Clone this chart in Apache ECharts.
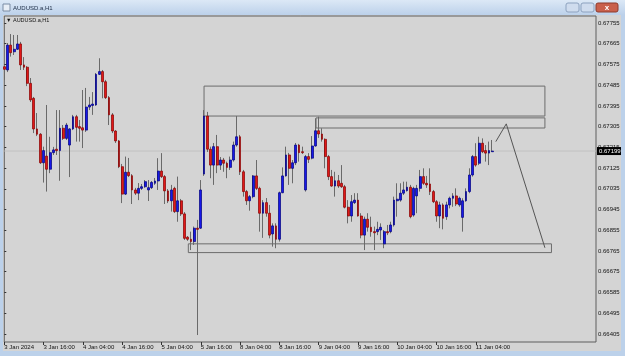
<!DOCTYPE html>
<html>
<head>
<meta charset="utf-8">
<script src="https://cdn.jsdelivr.net/npm/echarts@6/dist/echarts.min.js"></script>
<style>
html, body { margin: 0; padding: 0; background: #d4d4d4; }
#chart { width: 625px; height: 356px; }
</style>
</head>
<body>
<div id="chart"></div>
<script>
// tick labels (one every 12 H1 bars)
var timeLabels = ['3 Jan 2024', '3 Jan 16:00', '4 Jan 04:00', '4 Jan 16:00', '5 Jan 04:00', '5 Jan 16:00',
    '8 Jan 04:00', '8 Jan 16:00', '9 Jan 04:00', '9 Jan 16:00', '10 Jan 04:00', '10 Jan 16:00', '11 Jan 04:00'];
var priceTicks = [0.66405, 0.66495, 0.66585, 0.66675, 0.66765, 0.66855, 0.66945, 0.67035,
    0.67125, 0.67215, 0.67305, 0.67395, 0.67485, 0.67575, 0.67665, 0.67755];

// H1 candles: open, close, low, high
var candles = [
    [0.67565, 0.67554, 0.67508, 0.67568], [0.67551, 0.67659, 0.67542, 0.67668], [0.67659, 0.67626, 0.67609, 0.67707],
    [0.67630, 0.67641, 0.67616, 0.67703], [0.67641, 0.67664, 0.67638, 0.67703], [0.67664, 0.67573, 0.67551, 0.67673],
    [0.67573, 0.67563, 0.67551, 0.67607], [0.67563, 0.67493, 0.67481, 0.67568], [0.67493, 0.67421, 0.67412, 0.67516],
    [0.67428, 0.67295, 0.67277, 0.67434], [0.67295, 0.67272, 0.67264, 0.67364], [0.67272, 0.67148, 0.67143, 0.67277],
    [0.67148, 0.67201, 0.67062, 0.67218], [0.67177, 0.67120, 0.67023, 0.67399], [0.67120, 0.67192, 0.67103, 0.67261],
    [0.67192, 0.67204, 0.67182, 0.67217], [0.67207, 0.67201, 0.67182, 0.67377], [0.67201, 0.67298, 0.67070, 0.67377],
    [0.67298, 0.67254, 0.67247, 0.67312], [0.67254, 0.67312, 0.67247, 0.67321], [0.67225, 0.67295, 0.67086, 0.67298],
    [0.67295, 0.67348, 0.67290, 0.67356], [0.67348, 0.67302, 0.67240, 0.67356], [0.67305, 0.67298, 0.67240, 0.67334],
    [0.67300, 0.67290, 0.67212, 0.67464], [0.67290, 0.67390, 0.67282, 0.67473], [0.67390, 0.67399, 0.67377, 0.67434],
    [0.67397, 0.67403, 0.67356, 0.67455], [0.67399, 0.67532, 0.67395, 0.67538], [0.67532, 0.67544, 0.67529, 0.67602],
    [0.67544, 0.67500, 0.67428, 0.67551], [0.67500, 0.67431, 0.67425, 0.67508], [0.67431, 0.67356, 0.67312, 0.67438],
    [0.67356, 0.67286, 0.67277, 0.67364], [0.67286, 0.67243, 0.67234, 0.67290], [0.67243, 0.67131, 0.67125, 0.67247],
    [0.67131, 0.67012, 0.66973, 0.67143], [0.67012, 0.67107, 0.67008, 0.67175], [0.67107, 0.67092, 0.67086, 0.67169],
    [0.67092, 0.67030, 0.66969, 0.67099], [0.67030, 0.67016, 0.67008, 0.67039], [0.67016, 0.67037, 0.66986, 0.67060],
    [0.67037, 0.67044, 0.67030, 0.67056], [0.67044, 0.67066, 0.67039, 0.67073], [0.67030, 0.67040, 0.66982, 0.67073],
    [0.67040, 0.67063, 0.67034, 0.67069], [0.67059, 0.67069, 0.67052, 0.67082], [0.67069, 0.67112, 0.67030, 0.67168],
    [0.67112, 0.67088, 0.67082, 0.67190], [0.67088, 0.67026, 0.66969, 0.67095], [0.67026, 0.66982, 0.66973, 0.67034],
    [0.66983, 0.67030, 0.66936, 0.67052], [0.67037, 0.66936, 0.66930, 0.67044], [0.66936, 0.66983, 0.66892, 0.67088],
    [0.66983, 0.66926, 0.66917, 0.66991], [0.66926, 0.66820, 0.66813, 0.66934], [0.66825, 0.66816, 0.66809, 0.66830],
    [0.66816, 0.66806, 0.66769, 0.66849], [0.66806, 0.66864, 0.66791, 0.66871], [0.66864, 0.66859, 0.66400, 0.66900],
    [0.66864, 0.67030, 0.66861, 0.67073], [0.67099, 0.67351, 0.67091, 0.67377], [0.67351, 0.67207, 0.67195, 0.67369],
    [0.67207, 0.67138, 0.67081, 0.67218], [0.67138, 0.67218, 0.67052, 0.67234], [0.67218, 0.67138, 0.67103, 0.67269],
    [0.67138, 0.67160, 0.67117, 0.67173], [0.67160, 0.67146, 0.67109, 0.67169], [0.67146, 0.67128, 0.67081, 0.67153],
    [0.67128, 0.67160, 0.67117, 0.67175], [0.67160, 0.67225, 0.67153, 0.67240], [0.67225, 0.67261, 0.67218, 0.67351],
    [0.67261, 0.67109, 0.67095, 0.67269], [0.67109, 0.67023, 0.67001, 0.67117], [0.67023, 0.66983, 0.66965, 0.67030],
    [0.66983, 0.67001, 0.66940, 0.67008], [0.67001, 0.67091, 0.66994, 0.67095], [0.67091, 0.67037, 0.67030, 0.67160],
    [0.67037, 0.66929, 0.66849, 0.67044], [0.66929, 0.66975, 0.66822, 0.66986], [0.66975, 0.66929, 0.66914, 0.66995],
    [0.66929, 0.66834, 0.66820, 0.66965], [0.66839, 0.66874, 0.66784, 0.66885], [0.66874, 0.66816, 0.66777, 0.66885],
    [0.66816, 0.67018, 0.66806, 0.67023], [0.67018, 0.67091, 0.67016, 0.67128], [0.67091, 0.67182, 0.67088, 0.67218],
    [0.67182, 0.67124, 0.67052, 0.67191], [0.67124, 0.67148, 0.67059, 0.67160], [0.67148, 0.67225, 0.67138, 0.67234],
    [0.67225, 0.67192, 0.67153, 0.67230], [0.67196, 0.67192, 0.67186, 0.67218], [0.67030, 0.67175, 0.67023, 0.67182],
    [0.67175, 0.67163, 0.67147, 0.67190], [0.67168, 0.67221, 0.67163, 0.67264], [0.67221, 0.67287, 0.67218, 0.67341],
    [0.67287, 0.67273, 0.67256, 0.67348], [0.67273, 0.67250, 0.67240, 0.67298], [0.67250, 0.67175, 0.67124, 0.67254],
    [0.67175, 0.67088, 0.67073, 0.67182], [0.67088, 0.67047, 0.67044, 0.67117], [0.67047, 0.67070, 0.67001, 0.67109],
    [0.67070, 0.67047, 0.67039, 0.67095], [0.67059, 0.67044, 0.67039, 0.67138], [0.67044, 0.66955, 0.66950, 0.67052],
    [0.66955, 0.66917, 0.66885, 0.66986], [0.66917, 0.66979, 0.66892, 0.67008], [0.66975, 0.66986, 0.66969, 0.67016],
    [0.66986, 0.66917, 0.66914, 0.67016], [0.66917, 0.66834, 0.66820, 0.66929], [0.66834, 0.66903, 0.66769, 0.66914],
    [0.66903, 0.66868, 0.66849, 0.66929], [0.66868, 0.66849, 0.66827, 0.66914], [0.66849, 0.66844, 0.66769, 0.66871],
    [0.66849, 0.66859, 0.66834, 0.66892], [0.66856, 0.66868, 0.66813, 0.66885], [0.66796, 0.66849, 0.66777, 0.66856],
    [0.66849, 0.66844, 0.66834, 0.66878], [0.66849, 0.66878, 0.66842, 0.66892], [0.66878, 0.66986, 0.66871, 0.67001],
    [0.66983, 0.66990, 0.66914, 0.67059], [0.66986, 0.67016, 0.66979, 0.67059], [0.67016, 0.67030, 0.67008, 0.67066],
    [0.67027, 0.67042, 0.67023, 0.67066], [0.67042, 0.66914, 0.66907, 0.67052], [0.66921, 0.67037, 0.66914, 0.67044],
    [0.67004, 0.67037, 0.66929, 0.67052], [0.67037, 0.67088, 0.67023, 0.67117], [0.67088, 0.67059, 0.67052, 0.67124],
    [0.67059, 0.67052, 0.67039, 0.67091], [0.67056, 0.67023, 0.67008, 0.67124], [0.67023, 0.66979, 0.66973, 0.67030],
    [0.66979, 0.66917, 0.66892, 0.66986], [0.66917, 0.66965, 0.66864, 0.66979], [0.66965, 0.66907, 0.66859, 0.66972],
    [0.66914, 0.66965, 0.66900, 0.66979], [0.66965, 0.66994, 0.66950, 0.67001], [0.66994, 0.67004, 0.66957, 0.67016],
    [0.67004, 0.66969, 0.66960, 0.67037], [0.66965, 0.66994, 0.66957, 0.67001], [0.66911, 0.66983, 0.66849, 0.66994],
    [0.66983, 0.67023, 0.66979, 0.67037], [0.67023, 0.67095, 0.67016, 0.67124], [0.67095, 0.67175, 0.67088, 0.67182],
    [0.67175, 0.67138, 0.67131, 0.67233], [0.67146, 0.67233, 0.67138, 0.67261], [0.67233, 0.67196, 0.67190, 0.67254],
    [0.67201, 0.67190, 0.67153, 0.67225], [0.67190, 0.67201, 0.67138, 0.67240], [0.67196, 0.67199, 0.67196, 0.67247]
];

// drawn objects, in bar index / price
var zones = [
    [61, 0.67481, 165.1, 0.67351],
    [95.2, 0.67343, 165.1, 0.67299],
    [56.2, 0.66796, 167.1, 0.66758]
];
var pathPoints = [[150.1, 0.67240], [153.3, 0.67317], [165.1, 0.66779]];
var lastPrice = 0.67199;

var font = 'Liberation Sans, Arial, sans-serif';
var xMax = 180.7;
var myChart = echarts.init(document.getElementById('chart'));

var wickData = candles.map(function (c, i) { return [i, c[0], c[1], c[2], c[3]]; });
var bodyData = candles.map(function (c, i) {
    return [i, c[0], c[1], Math.min(c[0], c[1]), Math.max(c[0], c[1])];
});

var option = {
    backgroundColor: '#d4d4d4',
    animation: false,
    grid: {
        left: 4.3, right: 29, top: 16, bottom: 14,
        show: true, backgroundColor: '#d4d4d4', borderColor: '#5e5e5e', borderWidth: 1
    },
    xAxis: {
        type: 'value', min: 0, max: xMax, interval: 12,
        splitLine: { show: false },
        axisLine: { show: false },
        axisTick: { show: true, length: 3, lineStyle: { color: '#333' },
            customValues: timeLabels.map(function (t, k) { return k * 12; }) },
        axisLabel: {
            customValues: timeLabels.map(function (t, k) { return k * 12; }),
            formatter: function (v) { return timeLabels[Math.round(v / 12)] || ''; },
            align: 'left', fontSize: 6, color: '#111', margin: 2, fontFamily: font
        }
    },
    yAxis: {
        type: 'value', position: 'right', min: 0.663698, max: 0.677854,
        splitLine: { show: false },
        axisLine: { show: false },
        axisTick: { show: true, length: 2, customValues: priceTicks, lineStyle: { color: '#333' } },
        axisLabel: {
            customValues: priceTicks,
            formatter: function (v) { return v.toFixed(5); },
            fontSize: 6, color: '#111', margin: 2, fontFamily: font
        }
    },
    graphic: [
        { type: 'rect', shape: { x: 0, y: 0, width: 625, height: 15 }, z: 100,
          style: { fill: new echarts.graphic.LinearGradient(0, 0, 0, 1, [
              { offset: 0, color: '#dce8f6' }, { offset: 1, color: '#bcd1ea' }]) } },
        { type: 'rect', shape: { x: 0, y: 15, width: 3, height: 341 }, z: 100, style: { fill: '#bcd1ea' } },
        { type: 'rect', shape: { x: 621, y: 15, width: 4, height: 341 }, z: 100, style: { fill: '#bcd1ea' } },
        { type: 'rect', shape: { x: 0, y: 351, width: 625, height: 5 }, z: 100, style: { fill: '#bcd1ea' } },
        { type: 'rect', shape: { x: 3, y: 4, width: 7, height: 7 }, z: 101,
          style: { fill: '#e8eef6', stroke: '#7a8ca4', lineWidth: 1 } },
        { type: 'text', x: 13, y: 8, z: 101,
          style: { text: 'AUDUSD.a,H1', fill: '#1c2c44', font: '6px ' + font, textVerticalAlign: 'middle' } },
        { type: 'rect', shape: { x: 566, y: 3, width: 13, height: 9, r: 2 }, z: 101,
          style: { fill: '#cfdcee', stroke: '#8da2bf', lineWidth: 1 } },
        { type: 'rect', shape: { x: 581, y: 3, width: 13, height: 9, r: 2 }, z: 101,
          style: { fill: '#cfdcee', stroke: '#8da2bf', lineWidth: 1 } },
        { type: 'rect', shape: { x: 596, y: 3, width: 22, height: 9, r: 2 }, z: 101,
          style: { fill: '#c9604c', stroke: '#8e3a2c', lineWidth: 1 } },
        { type: 'text', x: 607, y: 8, z: 102,
          style: { text: 'x', fill: '#fff', font: 'bold 8px ' + font, textAlign: 'center', textVerticalAlign: 'middle' } },
        { type: 'text', x: 6, y: 20, z: 101,
          style: { text: '\u25BC AUDUSD.a,H1', fill: '#111', font: '5.5px ' + font, textVerticalAlign: 'middle' } }
    ],
    series: [
        {
            // bid line with its price tag on the axis
            type: 'line', name: 'bid', data: [[0, lastPrice], [xMax, lastPrice]], symbol: 'none', silent: true,
            lineStyle: { color: '#c2c2c2', width: 1 }, z: 1,
            endLabel: { show: true, distance: 1, formatter: lastPrice.toFixed(5), backgroundColor: '#000',
                        color: '#fff', fontSize: 6, fontFamily: font, padding: [1, 2, 1, 2] }
        },
        {
            type: 'candlestick', name: 'wicks', data: wickData, barWidth: 0.4, silent: true,
            itemStyle: { color: '#6a6a6a', color0: '#6a6a6a', borderColor: '#6a6a6a', borderColor0: '#6a6a6a', borderWidth: 1 },
            markArea: {
                silent: true,
                itemStyle: { color: 'rgba(0,0,0,0)', borderColor: '#6c6c6c', borderWidth: 1 },
                data: zones.map(function (z) { return [{ coord: [z[0], z[1]] }, { coord: [z[2], z[3]] }]; })
            }
        },
        {
            type: 'candlestick', name: 'bodies', data: bodyData, barWidth: 2.3, silent: true,
            itemStyle: { color: '#1818e8', color0: '#e01818', borderColor: '#00007e', borderColor0: '#860000', borderWidth: 0.7 }
        },
        {
            type: 'line', name: 'path', data: pathPoints, symbol: 'none', silent: true,
            lineStyle: { color: '#555', width: 1 }
        }
    ]
};
myChart.setOption(option);
</script>
</body>
</html>
